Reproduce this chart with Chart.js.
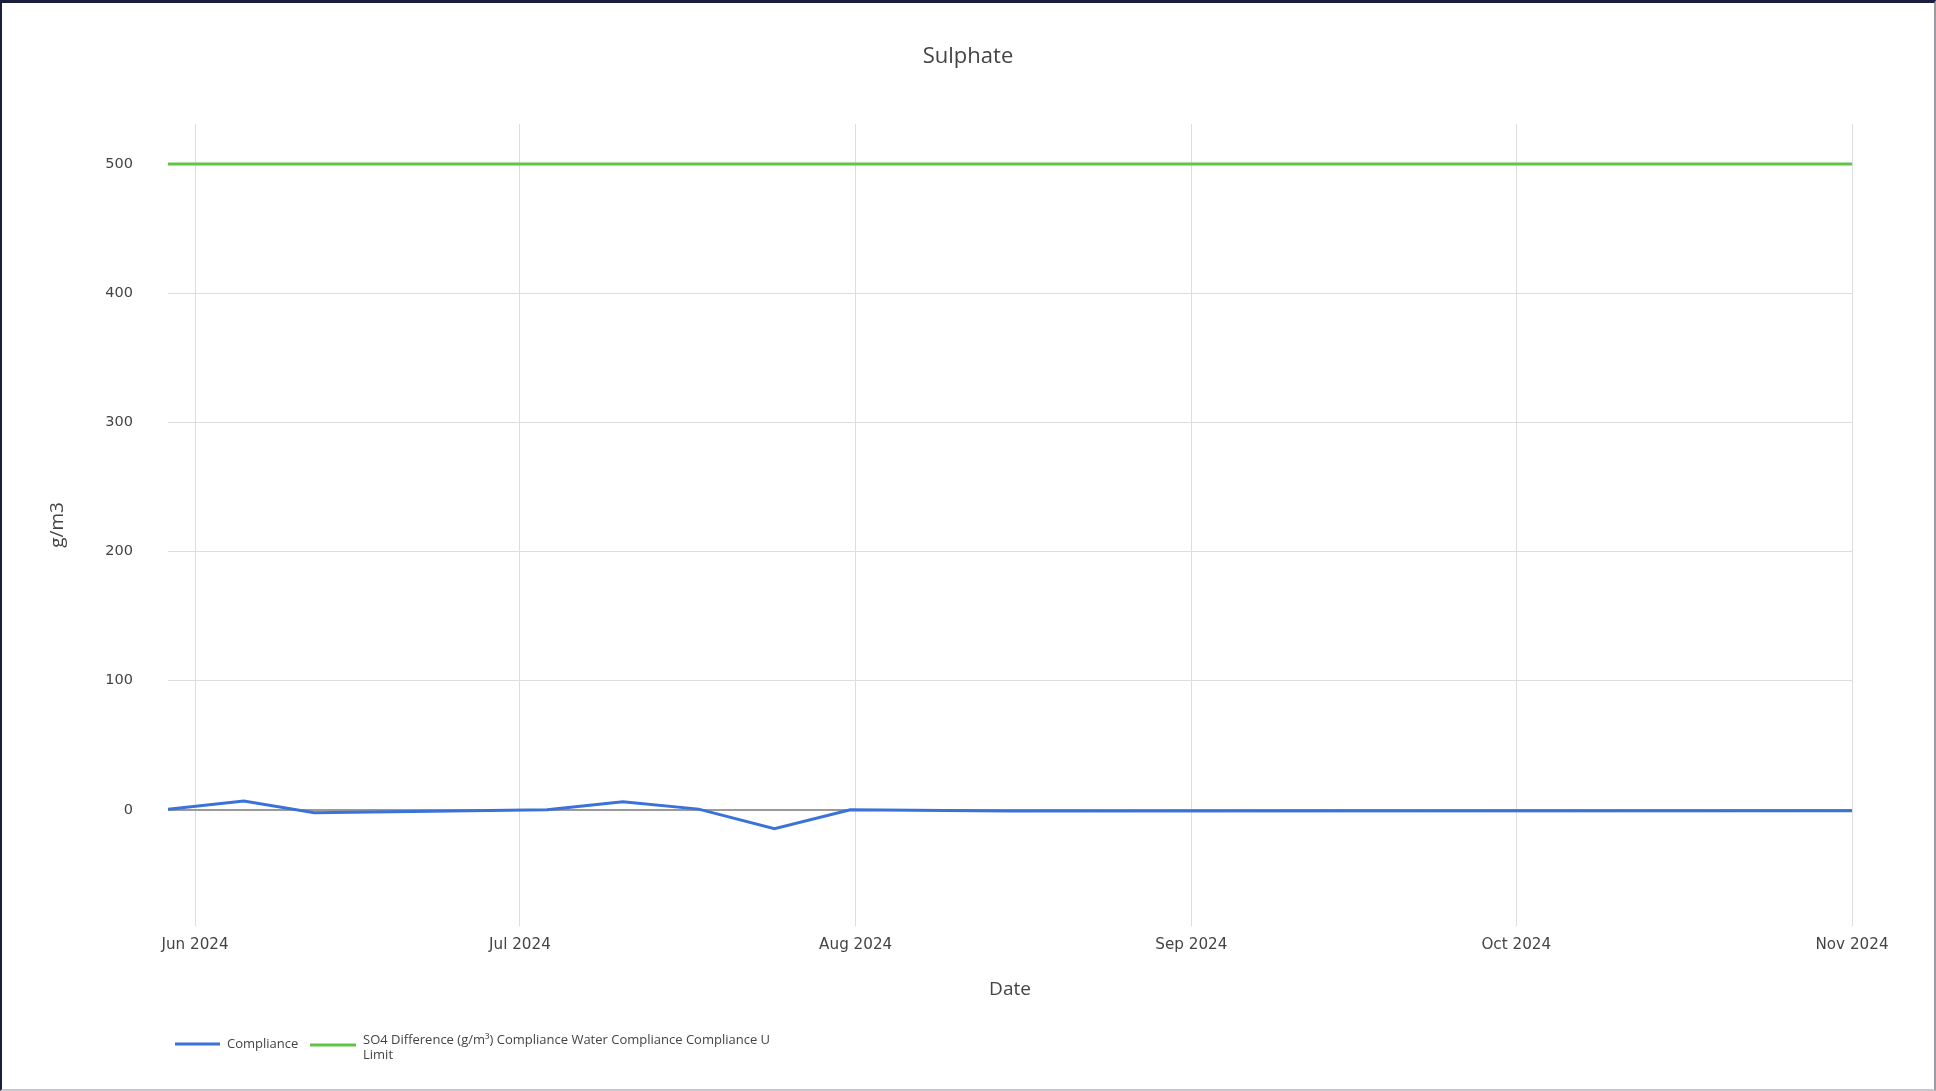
<!DOCTYPE html>
<html>
<head>
<meta charset="utf-8">
<script src="https://cdn.jsdelivr.net/npm/chart.js@4.4.1/dist/chart.umd.min.js"></script>
<style>
  html, body { margin: 0; padding: 0; background: #fff; overflow: hidden; }
  #wrap { position: relative; width: 1936px; height: 1091px; }
  #frame { position: absolute; left: 0; top: 0; width: 1936px; height: 1091px; box-sizing: border-box;
           border-top: 3px solid #1b1f3b; border-left: 2px solid #1b1f3b; border-right: 2px solid #9a9aa2; border-bottom: 2px solid #c8c8cc; pointer-events: none; }
</style>
</head>
<body>
<div id="wrap">
  <canvas id="c" width="1936" height="1091"></canvas>
  <div id="frame"></div>
</div>
<script>
// ---- data ----
const chartTitle = 'Sulphate';
const xAxisTitle = 'Date';
const yAxisTitle = 'g/m3';
const complianceLabel = 'Compliance';
const limitLabel = 'SO4 Difference (g/m³) Compliance Water Compliance Compliance U Limit';
const complianceDates = ['2024-05-29T12:00', '2024-06-05T12:00', '2024-06-12T00:00', '2024-07-03T12:00', '2024-07-10T12:00',
                         '2024-07-17T12:00', '2024-07-24T12:00', '2024-07-31T12:00', '2024-08-15T00:00', '2024-11-01T00:00'];
const complianceValues = [0.3, 6.7, -2.3, 0, 6.2, 0.5, -14.7, 0, -1, -0.8];
const limitDates = ['2024-05-29T12:00', '2024-11-01T00:00'];
const limitValues = [500, 500];
const xTickDates = ['2024-06-01T00:00', '2024-07-01T00:00', '2024-08-01T00:00', '2024-09-01T00:00', '2024-10-01T00:00', '2024-11-01T00:00'];
const monthNames = ['Jan','Feb','Mar','Apr','May','Jun','Jul','Aug','Sep','Oct','Nov','Dec'];
const yTicks = [0, 100, 200, 300, 400, 500];
const yMin = -90, yMax = 531;

const toMs = s => Date.parse(s + ':00Z');
const fmtMonth = v => { const d = new Date(v); return monthNames[d.getUTCMonth()] + ' ' + d.getUTCFullYear(); };

const blue = '#3b72d8';
const green = '#5ec446';

const titlePlugin = {
  id: 'topTitle',
  afterDraw(chart) {
    const ctx = chart.ctx;
    ctx.save();
    ctx.font = '22px "Open Sans"';
    ctx.fillStyle = '#444';
    ctx.textAlign = 'center';
    ctx.textBaseline = 'middle';
    ctx.fillText(chartTitle, 968, 57);
    ctx.restore();
  }
};

const legendPlugin = {
  id: 'bottomLegend',
  afterDraw(chart) {
    const ctx = chart.ctx;
    ctx.save();
    ctx.font = '13px "Open Sans"';
    ctx.fillStyle = '#444';
    ctx.textBaseline = 'middle';
    ctx.textAlign = 'left';
    const ds = chart.data.datasets;
    ctx.strokeStyle = ds[0].borderColor; ctx.lineWidth = 3;
    ctx.beginPath(); ctx.moveTo(175, 1044); ctx.lineTo(220, 1044); ctx.stroke();
    ctx.fillText(ds[0].label, 227, 1044);
    ctx.strokeStyle = ds[1].borderColor;
    ctx.beginPath(); ctx.moveTo(310, 1045); ctx.lineTo(356, 1045); ctx.stroke();
    const t = ds[1].label; const cut = t.lastIndexOf(' ');
    ctx.fillText(t.slice(0, cut), 363, 1040);
    ctx.fillText(t.slice(cut + 1), 363, 1055);
    ctx.restore();
  }
};

new Chart(document.getElementById('c'), {
  type: 'line',
  data: {
    datasets: [
      { label: complianceLabel, data: complianceDates.map((d, i) => ({ x: toMs(d), y: complianceValues[i] })),
        borderColor: blue, backgroundColor: blue, borderWidth: 3, pointRadius: 0, tension: 0 },
      { label: limitLabel, data: limitDates.map((d, i) => ({ x: toMs(d), y: limitValues[i] })),
        borderColor: green, backgroundColor: green, borderWidth: 3, pointRadius: 0, tension: 0 }
    ]
  },
  options: {
    responsive: false,
    animation: false,
    layout: { padding: { left: 0, right: 84, top: 124, bottom: 85 } },
    plugins: { legend: { display: false }, title: { display: false }, tooltip: { enabled: false } },
    scales: {
      x: {
        type: 'linear',
        min: toMs(complianceDates[0]),
        max: toMs(xTickDates[xTickDates.length - 1]),
        afterBuildTicks: s => { s.ticks = xTickDates.map(d => ({ value: toMs(d) })); },
        afterFit: s => { s.height = 80; },
        ticks: { callback: v => fmtMonth(v), autoSkip: false, maxRotation: 0, padding: 10,
                 font: { family: 'DejaVu Sans', size: 15.2 }, color: '#444' },
        grid: { color: '#dddddd', lineWidth: 1, drawTicks: false },
        border: { display: false },
        title: { display: true, text: xAxisTitle, font: { family: 'Open Sans', size: 19 }, color: '#444', padding: { top: 0, bottom: 5 } }
      },
      y: {
        min: yMin, max: yMax,
        afterBuildTicks: s => { s.ticks = yTicks.map(v => ({ value: v })); },
        afterFit: s => { s.width = 168; },
        ticks: { padding: 35, font: { family: 'DejaVu Sans', size: 14.5 }, color: '#444' },
        grid: { color: c => (c.tick && c.tick.value === 0) ? '#9a9a9a' : '#dddddd', lineWidth: c => (c.tick && c.tick.value === 0) ? 2 : 1, drawTicks: false },
        border: { display: false },
        title: { display: true, text: yAxisTitle, font: { family: 'Open Sans', size: 19 }, color: '#444', padding: { top: 46, bottom: 0 } }
      }
    }
  },
  plugins: [titlePlugin, legendPlugin]
});
</script>
</body>
</html>
